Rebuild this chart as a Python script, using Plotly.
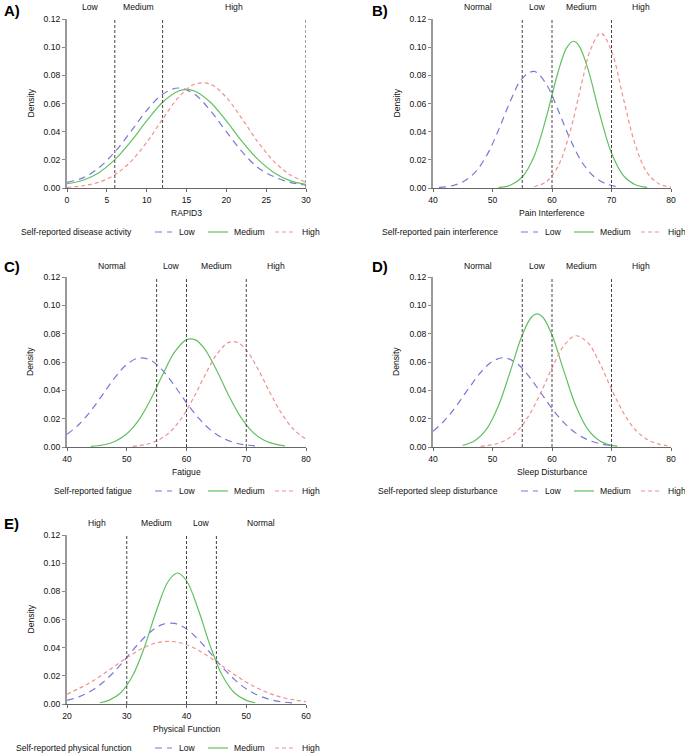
import plotly.graph_objects as go

W, H = 685, 754

# ---------------- data ----------------
panel_letters = ["A)", "B)", "C)", "D)", "E)"]
x_titles = ["RAPID3", "Pain Interference", "Fatigue", "Sleep Disturbance", "Physical Function"]
legend_titles = ["Self-reported disease activity", "Self-reported pain interference",
                 "Self-reported fatigue", "Self-reported sleep disturbance",
                 "Self-reported physical function"]
series_names = ["Low", "Medium", "High"]
x_ranges = [[0, 30], [40, 80], [40, 80], [40, 80], [20, 60]]
x_tickvals = [[0, 5, 10, 15, 20, 25, 30], [40, 50, 60, 70, 80], [40, 50, 60, 70, 80],
              [40, 50, 60, 70, 80], [20, 30, 40, 50, 60]]
y_tickvals = [0.00, 0.02, 0.04, 0.06, 0.08, 0.10, 0.12]

cutoffs = [[6, 12, 30], [55, 60, 70], [55, 60, 70], [55, 60, 70], [30, 40, 45]]
cat_labels = [["Low", "Medium", "High"],
              ["Normal", "Low", "Medium", "High"],
              ["Normal", "Low", "Medium", "High"],
              ["Normal", "Low", "Medium", "High"],
              ["High", "Medium", "Low", "Normal"]]
cat_label_x = [[3, 9, 21], [47.5, 57.5, 65, 75], [47.5, 57.5, 65, 75],
               [47.5, 57.5, 65, 75], [25, 35, 42.5, 52.5]]

# Panel A
a_low_x = [0, 2, 4, 6, 8, 10, 12, 14, 16, 18, 20, 22, 24, 26, 28, 30]
a_low_y = [0.0040, 0.0072, 0.0144, 0.0256, 0.0400, 0.0550, 0.0666, 0.0710, 0.0666, 0.0550,
           0.0400, 0.0256, 0.0144, 0.0080, 0.0040, 0.0020]
a_med_x = [0, 2, 4, 6, 8, 10, 12, 14, 15, 16, 18, 20, 22, 24, 26, 28, 30]
a_med_y = [0.0030, 0.0055, 0.0109, 0.0201, 0.0329, 0.0476, 0.0609, 0.0689, 0.0700, 0.0689,
           0.0609, 0.0476, 0.0329, 0.0201, 0.0109, 0.0052, 0.0025]
a_high_x = [0, 2, 4, 6, 8, 10, 12, 14, 16, 18, 20, 22, 24, 26, 28, 30]
a_high_y = [0.0005, 0.0016, 0.0041, 0.0094, 0.0187, 0.0324, 0.0489, 0.0643, 0.0737, 0.0737,
            0.0643, 0.0489, 0.0324, 0.0187, 0.0094, 0.0041]

# Panel B
b_low_x = [41, 43, 45, 47, 49, 51, 53, 55, 57, 59, 61, 63, 65, 67, 69, 71]
b_low_y = [0.0004, 0.0014, 0.0043, 0.0108, 0.0229, 0.0410, 0.0617, 0.0779, 0.0828, 0.0740,
           0.0556, 0.0351, 0.0186, 0.0083, 0.0031, 0.0010]
b_med_x = [51, 53, 55, 57, 59, 61, 62.5, 63.6, 64.5, 66, 68, 70, 72, 74, 76]
b_med_y = [0.0004, 0.0020, 0.0078, 0.0226, 0.0495, 0.0820, 0.0998, 0.1042, 0.1013, 0.0851,
           0.0528, 0.0248, 0.0088, 0.0023, 0.0005]
b_high_x = [57, 59, 61, 63, 65, 66.5, 68.2, 70, 72, 74, 76, 78, 80]
b_high_y = [0.0009, 0.0044, 0.0153, 0.0393, 0.0745, 0.0985, 0.1100, 0.0972, 0.0635, 0.0306,
            0.0109, 0.0029, 0.0006]

# Panel C
c_low_x = [40, 42, 44, 46, 48, 50, 52, 54, 56, 58, 60, 62, 64, 66, 68, 70, 72]
c_low_y = [0.0090, 0.0159, 0.0256, 0.0372, 0.0489, 0.0583, 0.0628, 0.0613, 0.0541, 0.0432,
           0.0312, 0.0205, 0.0121, 0.0065, 0.0031, 0.0014, 0.0006]
c_med_x = [44, 46, 48, 50, 52, 54, 56, 58, 60, 61.5, 63, 65, 67, 69, 71, 73, 75, 76.5]
c_med_y = [0.0005, 0.0014, 0.0039, 0.0093, 0.0190, 0.0335, 0.0510, 0.0669, 0.0758, 0.0756,
           0.0694, 0.0545, 0.0369, 0.0216, 0.0109, 0.0047, 0.0018, 0.0008]
c_high_x = [51, 53, 55, 57, 59, 61, 63, 65, 67, 68.5, 70, 72, 74, 76, 78, 80]
c_high_y = [0.0005, 0.0016, 0.0043, 0.0097, 0.0193, 0.0333, 0.0499, 0.0650, 0.0737, 0.0739,
            0.0685, 0.0548, 0.0381, 0.0231, 0.0121, 0.0056]

# Panel D
d_low_x = [40, 42, 44, 46, 48, 50, 52, 54, 56, 58, 60, 62, 64, 66, 68, 70]
d_low_y = [0.0111, 0.0190, 0.0295, 0.0414, 0.0526, 0.0605, 0.0630, 0.0593, 0.0506, 0.0390,
           0.0272, 0.0172, 0.0098, 0.0051, 0.0024, 0.0010]
d_med_x = [45, 47, 49, 51, 53, 55, 56.5, 57.5, 58.5, 60, 62, 64, 66, 68, 70, 71]
d_med_y = [0.0012, 0.0044, 0.0126, 0.0291, 0.0536, 0.0790, 0.0914, 0.0940, 0.0914, 0.0790,
           0.0536, 0.0291, 0.0126, 0.0044, 0.0012, 0.0006]
d_high_x = [48, 50, 52, 54, 56, 58, 60, 62, 64, 66, 68, 70, 72, 74, 76, 78, 80]
d_high_y = [0.0005, 0.0016, 0.0044, 0.0105, 0.0214, 0.0373, 0.0558, 0.0715, 0.0785, 0.0737,
            0.0594, 0.0409, 0.0242, 0.0122, 0.0053, 0.0020, 0.0006]

# Panel E
e_low_x = [20, 22, 24, 26, 28, 30, 32, 34, 36, 38, 40, 42, 44, 46, 48, 50, 52, 54, 56, 58]
e_low_y = [0.0026, 0.0051, 0.0092, 0.0153, 0.0234, 0.0331, 0.0430, 0.0513, 0.0565, 0.0572,
           0.0533, 0.0457, 0.0361, 0.0262, 0.0175, 0.0108, 0.0061, 0.0032, 0.0015, 0.0007]
e_med_x = [25.5, 27, 29, 31, 33, 35, 37, 38.5, 40, 42, 44, 46, 48, 50, 51.5]
e_med_y = [0.0009, 0.0026, 0.0080, 0.0202, 0.0409, 0.0667, 0.0875, 0.0930, 0.0875, 0.0667,
           0.0409, 0.0202, 0.0080, 0.0026, 0.0009]
e_high_x = [20, 22, 24, 26, 28, 30, 32, 34, 36, 38, 40, 42, 44, 46, 48, 50, 52, 54, 56, 58, 60]
e_high_y = [0.0070, 0.0110, 0.0155, 0.0210, 0.0269, 0.0328, 0.0381, 0.0421, 0.0442, 0.0442,
            0.0421, 0.0381, 0.0328, 0.0269, 0.0210, 0.0155, 0.0110, 0.0074, 0.0047, 0.0029, 0.0017]

panel_series = [
    [(a_low_x, a_low_y), (a_med_x, a_med_y), (a_high_x, a_high_y)],
    [(b_low_x, b_low_y), (b_med_x, b_med_y), (b_high_x, b_high_y)],
    [(c_low_x, c_low_y), (c_med_x, c_med_y), (c_high_x, c_high_y)],
    [(d_low_x, d_low_y), (d_med_x, d_med_y), (d_high_x, d_high_y)],
    [(e_low_x, e_low_y), (e_med_x, e_med_y), (e_high_x, e_high_y)],
]

# ---------------- styles / layout ----------------
colors = ["#7878d8", "#62c062", "#f29090"]
dashes = ["7px,5px", "solid", "4px,3px"]
FONT = "Liberation Sans, Arial, sans-serif"
FS = 8.6

# plot rectangles in pixels: (left, right, top, bottom)
rects = [(67, 306, 19, 188), (433, 671, 19, 188),
         (67, 306, 277, 447), (433, 671, 277, 447),
         (67, 306, 535, 704)]
cat_label_y = [7, 7, 266, 266, 523]
letter_pos = [(2, 10), (370, 10), (2, 266), (370, 266), (2, 523)]
ytitle_x = 30

def px(x):
    return x / W

def py(y):
    return 1 - y / H

fig = go.Figure()
shapes = []
annotations = []
txt = dict(family=FONT, size=FS, color="#111")

for i in range(5):
    L, R, T, B = rects[i]
    xa = "x" if i == 0 else f"x{i+1}"
    ya = "y" if i == 0 else f"y{i+1}"
    for j, (xs, ys) in enumerate(panel_series[i]):
        fig.add_trace(go.Scatter(
            x=xs, y=ys, mode="lines", name=series_names[j], showlegend=False,
            line=dict(color=colors[j], width=1.2, dash=dashes[j], shape="spline", smoothing=1.0),
            xaxis=xa, yaxis=ya, hoverinfo="skip"))
    axis_common = dict(showgrid=False, zeroline=False, showline=True,
                       ticks="outside", ticklen=3, tickwidth=1,
                       automargin=False, tickfont=txt)
    fig.layout[f"xaxis{'' if i == 0 else i+1}"] = dict(
        axis_common, domain=[px(L), px(R)], range=x_ranges[i], tickvals=x_tickvals[i],
        anchor=ya, linewidth=1.2, linecolor="#666", tickcolor="#666")
    fig.layout[f"yaxis{'' if i == 0 else i+1}"] = dict(
        axis_common, domain=[py(B), py(T)], range=[0, 0.12], tickvals=y_tickvals,
        tickformat=".2f", anchor=xa, linewidth=2, linecolor="#9a9a9a", tickcolor="#888")

    # axis titles
    annotations.append(dict(text=x_titles[i], xref="paper", yref="paper", x=px((L + R) / 2),
                            y=py(B + 25), showarrow=False, xanchor="center",
                            yanchor="middle", font=txt))
    annotations.append(dict(text="Density", xref="paper", yref="paper", x=px(L - 67 + ytitle_x),
                            y=py((T + B) / 2), showarrow=False, xanchor="center",
                            yanchor="middle", textangle=-90, font=txt))

    # cut-off lines
    for c in cutoffs[i]:
        shapes.append(dict(type="line", xref=xa, yref=ya, x0=c, x1=c, y0=0, y1=0.12,
                           line=dict(color="#444", width=1, dash="3px,2px")))
    # category labels
    for lab, lx in zip(cat_labels[i], cat_label_x[i]):
        annotations.append(dict(text=lab, xref=xa, yref="paper", x=lx, y=py(cat_label_y[i]),
                                showarrow=False, xanchor="center", yanchor="middle", font=txt))
    # panel letter
    lx, ly = letter_pos[i]
    annotations.append(dict(text=f"<b>{panel_letters[i]}</b>", xref="paper", yref="paper",
                            x=px(lx), y=py(ly), showarrow=False, xanchor="left", yanchor="middle",
                            font=dict(family=FONT, size=15, color="#000")))
    # legend (drawn manually)
    yy = py(B + 44)
    annotations.append(dict(text=legend_titles[i], xref="paper", yref="paper", x=px(L + 67),
                            y=yy, showarrow=False, xanchor="right", yanchor="middle", font=txt))
    item_lines = [(88, 105, 110), (141, 161, 165), (208, 226, 233)]
    for j, (a0, a1, t0) in enumerate(item_lines):
        shapes.append(dict(type="line", xref="paper", yref="paper", x0=px(L + a0), x1=px(L + a1),
                           y0=yy, y1=yy, line=dict(color=colors[j], width=1.2, dash=dashes[j])))
        annotations.append(dict(text=series_names[j], xref="paper", yref="paper", x=px(L + t0),
                                y=yy, showarrow=False, xanchor="left", yanchor="middle", font=txt))

fig.update_layout(width=W, height=H, margin=dict(l=0, r=0, t=0, b=0, autoexpand=False),
                  plot_bgcolor="white", paper_bgcolor="white",
                  shapes=shapes, annotations=annotations, showlegend=False)

fig.write_html("out.html", config={"displayModeBar": False, "staticPlot": True},
               post_script="document.body.style.margin='0';document.body.style.overflow='hidden';")
